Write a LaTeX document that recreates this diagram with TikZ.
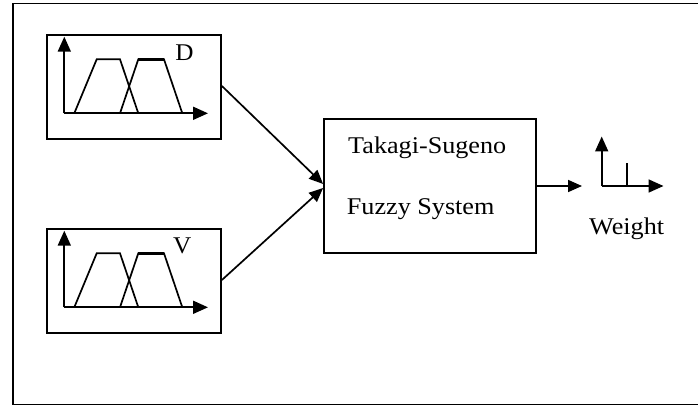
\documentclass[tikz,border=0pt]{standalone}
\usepackage{fontspec}
\setmainfont{Liberation Serif}
\usetikzlibrary{arrows.meta}
\begin{document}
\begin{tikzpicture}[x=1pt,y=-1pt,
  frame/.style={draw=black, line width=1.8pt},
  mfbox/.style={draw=black, line width=1.8pt, minimum width=174pt, minimum height=104pt, inner sep=0pt},
  sysbox/.style={draw=black, line width=1.8pt, minimum width=212pt, minimum height=134pt, inner sep=0pt},
  axis/.style={line width=1.8pt, -{Triangle[length=15pt,width=13pt]}},
  conn/.style={line width=1.7pt, -{Triangle[length=14pt,width=12pt]}},
  mf/.style={line width=1.7pt, line join=miter},
  lbl/.style={inner sep=0pt, anchor=base west, font=\fontsize{24}{28}\selectfont, xscale=1.09, transform shape},
  letter/.style={inner sep=0pt, font=\fontsize{24}{28}\selectfont, xscale=1.05, transform shape}
]
\useasboundingbox (0,0) rectangle (698,406);
% outer frame (right side cut off)
\begin{scope}
\clip (0,0) rectangle (698,406);
\draw[frame] (13,3.5) rectangle (720,404.5);
\end{scope}

% membership boxes
\node[mfbox] (dbox) at (134,87) {};
\node[mfbox] (vbox) at (134,281) {};

% D plot
\coordinate (do) at (64.3,113.3);
\coordinate (dy) at (64.3,36.7);
\coordinate (dx) at (208,113.3);
\draw[axis] (do) -- (dy);
\draw[axis] (do) -- (dx);
\draw[mf] (74.3,113.3) -- (96.7,59.3) -- (120,59.3) -- (138.3,113.3);
\draw[mf] (120,113.3) -- (138.3,59.3) -- (164,59.3) -- (182.3,113.3);
\draw[line width=2.8pt] (138.3,59.3) -- (164,59.3);
\node[letter] (dl) at (184.5,53) {D};

% V plot
\coordinate (vo) at (64.3,307.3);
\coordinate (vy) at (64.3,230.7);
\coordinate (vx) at (208,307.3);
\draw[axis] (vo) -- (vy);
\draw[axis] (vo) -- (vx);
\draw[mf] (74.3,307.3) -- (96.7,253.3) -- (120,253.3) -- (138.3,307.3);
\draw[mf] (120,307.3) -- (138.3,253.3) -- (164,253.3) -- (182.3,307.3);
\draw[line width=2.5pt] (138.3,253.3) -- (164,253.3);
\node[letter] (vl) at (182.2,245.5) {V};

% system box
\node[sysbox] (sys) at (430,186) {};
\node[lbl] (t1) at (348,153.3) {Takagi-Sugeno};
\node[lbl] (t2) at (346.7,214.3) {Fuzzy System};

% connectors
\draw[conn] ([yshift=1pt]dbox.east) -- ([yshift=2pt]sys.west);
\draw[conn] ([yshift=1pt]vbox.east) -- ([yshift=-2pt]sys.west);

% output
\coordinate (out) at (582,186);
\draw[conn] (sys.east |- out) -- (out);
\coordinate (wo) at (601.7,186);
\coordinate (wy) at (601.7,136.5);
\coordinate (wx) at (663.5,186);
\coordinate (ws) at (626.7,163.3);
\draw[axis] (wo) -- (wy);
\draw[axis] (wo) -- (wx);
\draw[line width=1.8pt] (ws) -- (ws |- wo);
\node[lbl] (wl) at (589,234) {Weight};
\end{tikzpicture}
\end{document}
